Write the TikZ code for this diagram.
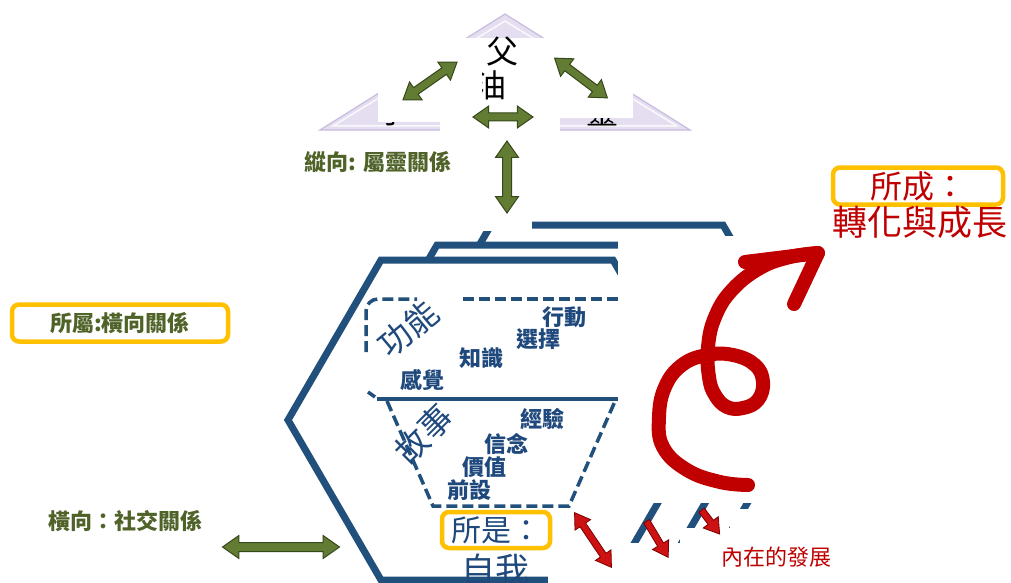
\documentclass[tikz,border=0pt]{standalone}
\usepackage{fontspec}
\newfontfamily\cjk{Noto Sans CJK TC}
\usetikzlibrary{shapes.arrows}

\definecolor{hexblue}{RGB}{33,80,124}
\definecolor{txtblue}{RGB}{31,73,125}
\definecolor{olivetxt}{RGB}{79,98,40}
\definecolor{olivefill}{RGB}{98,124,52}
\definecolor{olivedark}{RGB}{55,72,26}
\definecolor{redtxt}{RGB}{192,0,0}
\definecolor{redfill}{RGB}{204,18,18}
\definecolor{reddark}{RGB}{125,0,0}
\definecolor{boxyellow}{RGB}{255,192,0}
\definecolor{lav}{RGB}{229,222,240}
\definecolor{lavdark}{RGB}{200,188,222}

\newcommand{\fsz}[1]{\fontsize{#1}{#1}\selectfont}

\tikzset{
  mask/.style={fill=white},
  hexline/.style={draw=hexblue, line width=7pt, fill=white},
  dashline/.style={draw=hexblue, line width=3.5pt, dash pattern=on 11pt off 5pt},
  tagbox/.style={draw=boxyellow, line width=4.5pt, rounded corners=7pt, inner sep=0pt},
  greenlbl/.style={font=\cjk\bfseries\fsz{22}, text=olivetxt, inner sep=0pt},
  bluelbl/.style={font=\cjk\bfseries\fsz{22}, text=txtblue, inner sep=0pt},
  greenarr/.style={shape=double arrow, fill=olivefill, draw=olivedark, line width=1pt,
    inner sep=0pt, inner ysep=3.5pt, minimum width=0pt,
    double arrow head extend=7pt, double arrow tip angle=70},
  redarr/.style={shape=single arrow, fill=redfill, draw=reddark, line width=0.8pt,
    inner sep=0pt, inner ysep=3pt, minimum width=0pt,
    single arrow head extend=6pt, single arrow tip angle=65},
  reddbl/.style={shape=double arrow, fill=redfill, draw=reddark, line width=0.8pt,
    inner sep=0pt, inner ysep=3pt, minimum width=0pt,
    double arrow head extend=6pt, double arrow tip angle=65},
}

\begin{document}
\begin{tikzpicture}[x=1pt, y=-1pt]
\useasboundingbox[fill=white] (0,0) rectangle (1011,583);

% triangle at the top
\filldraw[fill=lav, draw=lavdark, line width=1.2pt] (505,14) -- (690,130) -- (320,130) -- cycle;
\draw[white, line width=1.5pt, opacity=0.8] (505,21) -- (677,126) -- (333,126) -- cycle;
\begin{scope}
  \clip (378,122) rectangle (440,135);
  \node[font=\cjk\fsz{30}] (son) at (393,113) {子};
\end{scope}
\begin{scope}
  \clip (560,118) rectangle (633,135);
  \node[font=\cjk\fsz{32}] (spirit) at (602,112) {靈};
\end{scope}
\fill[mask] (378,38) rectangle (440,122);
\fill[mask] (440,38) rectangle (560,140);
\fill[mask] (560,38) rectangle (633,118);
\node[font=\cjk\fsz{32}] (father) at (502,52) {父};
\begin{scope}
  \clip (482,66) rectangle (530,102);
  \node[font=\cjk\fsz{32}] (oil) at (490,85) {油};
\end{scope}
\node[greenarr, minimum height=66pt, rotate=35] (up1) at (430,81) {};
\node[greenarr, minimum height=66pt, rotate=-37] (up2) at (581,78) {};
\node[greenarr, minimum height=60pt] (up3) at (503,117) {};
\node[greenlbl] (vert) at (378,162) {縱向: 屬靈關係};

% stacked hexagons
\draw[hexline, shift={(110,-35)}] (381,260) -- (613,260) -- (706,420) -- (613,580) -- (381,580) -- (288,420) -- cycle;
\fill[mask] (470,200) rectangle (532,231);
\draw[hexline, shift={(56,-15)}] (381,260) -- (613,260) -- (706,420) -- (613,580) -- (381,580) -- (288,420) -- cycle;
\draw[hexline] (381,260) -- (613,260) -- (706,420) -- (613,580) -- (381,580) -- (288,420) -- cycle;
\node[greenarr, minimum height=72pt, rotate=90, inner ysep=4pt] (down) at (507,177) {};

% function / story
\draw[dashline, rounded corners=12pt] (366,352) -- (366,299) -- (417,299);
\draw[dashline] (463,299) -- (640,299);
\draw[hexblue, line width=3.5pt] (368,392) -- (375,397);
\draw[hexblue, line width=3.5pt] (377,399) -- (640,399);
\draw[dashline] (387,401) -- (433,506) -- (569,506) -- (616,399);
\node[font=\cjk\fsz{33}, text=txtblue, rotate=40] (func) at (408,329) {功能};
\node[font=\cjk\fsz{33}, text=txtblue, rotate=45] (story) at (424,434) {故事};
\node[bluelbl] (act) at (564,317) {行動};
\node[bluelbl] (choice) at (538,339) {選擇};
\node[bluelbl] (know) at (481,358) {知識};
\node[bluelbl] (feel) at (422,380) {感覺};
\node[bluelbl] (exper) at (542,419) {經驗};
\node[bluelbl] (belief) at (506,444) {信念};
\node[bluelbl] (value) at (484,467) {價值};
\node[bluelbl] (premise) at (469,490) {前設};

% white covers on the right
\fill[mask] (618,236) rectangle (1011,503);
\fill[mask] (548,543) rectangle (770,583);
\fill[mask] (680,528) rectangle (770,543);
\fill[mask] (730,509) rectangle (770,528);

% self
\node[tagbox, minimum width=108pt, minimum height=36pt, font=\cjk\fsz{30}, text=txtblue] (isbox) at (496,530) {所是：};
\node[font=\cjk\fsz{34}, text=txtblue, inner sep=0pt] (self) at (495,570) {自我};

% growth
\draw[redtxt, line width=14pt, line cap=round, line join=round] plot[smooth, tension=0.7] coordinates {
  (748,485) (720,482) (687,470) (663,447) (659,417) (665,387) (682,365) (707,355)
  (733,355) (755,365) (763,382) (758,400) (743,408) (727,407) (715,395) (709,377)
  (708,347) (715,317) (732,290) (760,268) (790,257) (818,253)};
\draw[redtxt, line width=14pt, line cap=round, line join=round] (745,262) -- (818,253) -- (794,304);
\node[tagbox, minimum width=170pt, minimum height=37pt, font=\cjk\fsz{32}, text=redtxt] (becbox) at (918,186) {所成：};
\node[font=\cjk\fsz{35}, text=redtxt, inner sep=0pt] (grow) at (920,222) {轉化與成長};
\node[reddbl, minimum height=66pt, rotate=-56] (in1) at (593,540) {};
\node[redarr, minimum height=42pt, rotate=-59] (in2) at (656,537) {};
\node[redarr, minimum height=30pt, rotate=-53] (in3) at (709,520) {};
\node[font=\cjk\fsz{22}, text=redtxt, inner sep=0pt] (inner) at (776,557) {內在的發展};

% horizontal relations
\node[tagbox, minimum width=216pt, minimum height=37pt, greenlbl] (belong) at (120,323) {所屬:橫向關係};
\node[greenlbl] (horiz) at (125,521) {橫向：社交關係};
\node[greenarr, minimum height=117pt, inner ysep=4pt] (side) at (281,547) {};
\end{tikzpicture}
\end{document}
